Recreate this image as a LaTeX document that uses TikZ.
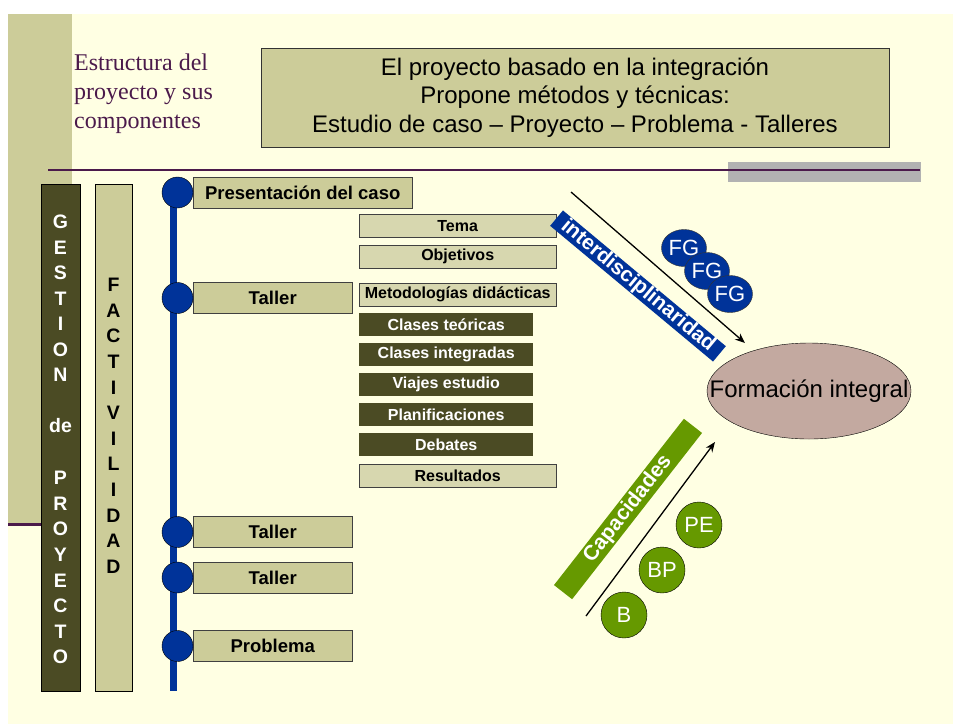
\documentclass[tikz,border=0pt]{standalone}
\usepackage{fontspec}
\setmainfont{Liberation Sans}
\newfontfamily\serifa{Liberation Serif}
\usepackage{tikz}
\usetikzlibrary{shapes}
\usetikzlibrary{calc}
\usetikzlibrary{arrows.meta}

\definecolor{crema}{HTML}{FFFFE3}
\definecolor{tostado}{HTML}{CCCC99}
\definecolor{tostadoclaro}{HTML}{D7D7AF}
\definecolor{oliva}{HTML}{4B4B24}
\definecolor{azul}{HTML}{003399}
\definecolor{verde}{HTML}{669900}
\definecolor{rosado}{HTML}{C3A9A0}
\definecolor{morado}{HTML}{4B1A4B}
\definecolor{gris}{HTML}{B2B2B2}

\begin{document}
\begin{tikzpicture}[x=1pt, y=-1pt,
    hito/.style={circle, draw=black, fill=azul, minimum size=31pt, inner sep=0pt},
    caja/.style={draw=black!75, fill=tostado, anchor=west, minimum height=31pt, inner sep=0pt,
        font=\bfseries\fontsize{18.5}{20}\selectfont},
    subcaja/.style={draw=black!75, fill=tostadoclaro, anchor=west, minimum width=197pt,
        minimum height=23pt, inner sep=0pt, font=\bfseries\fontsize{16}{18}\selectfont},
    subosc/.style={fill=oliva, text=white, anchor=west, minimum width=174pt,
        minimum height=23pt, inner sep=0pt, font=\bfseries\fontsize{16}{18}\selectfont},
    letra/.style={inner sep=0pt, font=\bfseries\fontsize{19.5}{20}\selectfont},
    bola/.style={circle, draw=black, fill=verde, text=white, minimum size=46pt, inner sep=0pt,
        font=\fontsize{22}{24}\selectfont},
    fg/.style={ellipse, draw=black!80, fill=azul, text=white, minimum width=45pt,
        minimum height=37pt, inner sep=0pt, font=\fontsize{22}{24}\selectfont}]
    \useasboundingbox (0,0) rectangle (953,724);
    % fondo
    \fill[white] (0,0) rectangle (953,724);
    \fill[crema] (8,14) rectangle (953,724);
    \fill[tostado] (8,14) rectangle (72,523);
    \draw[morado, line width=3pt] (8,524.5) -- (42,524.5);
    \fill[gris] (728,162) rectangle (921,182);
    \draw[morado, line width=1.6pt] (48,170) -- (920,170);

    \node[anchor=north west, align=left, inner sep=0pt, text=morado,
        font=\serifa\fontsize{24}{29}\selectfont] (titulo) at (74,54)
        {Estructura del\\proyecto y sus\\componentes};
    \node[draw=black!80, fill=tostado, minimum width=628pt, minimum height=99pt, align=center,
        font=\fontsize{24}{28.5}\selectfont] (cabecera) at (575,97.5)
        {El proyecto basado en la integración\\Propone métodos y técnicas:\\
         Estudio de caso – Proyecto – Problema - Talleres};

    % columnas
    \node[draw=black, fill=oliva, minimum width=39pt, minimum height=507pt, inner sep=0pt]
        (gestion) at (60.5,437.5) {};
    \node[draw=black, fill=tostado, minimum width=37pt, minimum height=507pt, inner sep=0pt]
        (factividad) at (113.5,437.5) {};
    \foreach[count=\i] \l/\ly in {G/222,E/247.5,S/273,T/298.5,I/324,O/349.5,N/375,de/426,
        P/478,R/503.6,O/529.2,Y/554.8,E/580.4,C/606,T/631.6,O/657.2} {
        \node[letra, text=white] (g-\i) at (60.5,\ly) {\l};
    }
    \foreach[count=\i] \l in {F,A,C,T,I,V,I,L,I,D,A,D} {
        \node[letra] (f-\i) at (113.5,259.4+25.6*\i) {\l};
    }

    % linea de tiempo
    \coordinate (eje-a) at (173.5,184);
    \coordinate (eje-b) at (173.5,691);
    \draw[azul, line width=7pt] (eje-a) -- (eje-b);
    \foreach[count=\i] \ty/\tw/\tt in {192.5/219/Presentación del caso,298/159/Taller,
        532/159/Taller,577.5/159/Taller,646/159/Problema} {
        \node[caja, minimum width=\tw pt] (caja-\i) at (193,\ty) {\tt};
        \node[hito] (hito-\i) at (177.5,\ty) {};
    }

    % componentes del taller
    \node[subcaja] (tema) at (359,226) {Tema};
    \node[subcaja] (objetivos) at (359,256.5) {Objetivos};
    \node[subcaja] (metodo) at (359,294.5) {Metodologías didácticas};
    \foreach[count=\i] \tt in {Clases teóricas,Clases integradas,Viajes estudio,
        Planificaciones,Debates} {
        \node[subosc] (m-\i) at (359,294.5+30*\i) {\tt};
    }
    \node[subcaja] (resultados) at (359,475.5) {Resultados};

    % formacion integral
    \node[ellipse, draw=black, fill=rosado, minimum width=204pt, minimum height=96pt,
        inner sep=0pt] (formacion) at (809,391) {};
    \node[inner sep=0pt, font=\fontsize{24}{26}\selectfont] (formacion-t) at (formacion)
        {Formación integral};
    \node[fill=azul, text=white, rotate=-39.8, minimum width=212pt, minimum height=20pt,
        inner sep=0pt, font=\bfseries\fontsize{21}{22}\selectfont] (inter) at (638,286)
        {interdisciplinaridad};
    \coordinate (fi-a) at (571,192);
    \coordinate (fi-b) at (745,343);
    \draw[-{Stealth[length=10pt, width=8pt]}, line width=1.3pt] (fi-a) -- (fi-b);
    \node[fg] (fg-1) at (684,248) {FG};
    \node[fg] (fg-2) at (707,271) {FG};
    \node[fg] (fg-3) at (730,294) {FG};

    % capacidades
    \node[fill=verde, text=white, rotate=52, minimum width=211pt, minimum height=23pt,
        inner sep=0pt, font=\bfseries\fontsize{21}{22}\selectfont] (capac) at (628,509)
        {Capacidades};
    \coordinate (ca-a) at (586,616);
    \coordinate (ca-b) at (715,442);
    \draw[-{Stealth[length=10pt, width=8pt]}, line width=1.3pt] (ca-a) -- (ca-b);
    \node[bola] (b) at (624,615) {B};
    \node[bola] (bp) at (662,570) {BP};
    \node[bola] (pe) at (699,525) {PE};
\end{tikzpicture}
\end{document}
